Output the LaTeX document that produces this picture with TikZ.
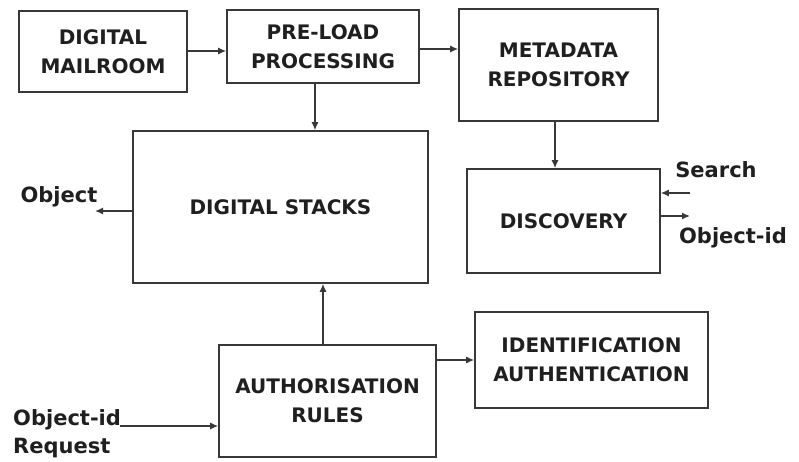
\documentclass[tikz,border=0pt]{standalone}
\usepackage{fontspec}
\setmainfont{DejaVu Sans}
\usetikzlibrary{arrows.meta,calc}

\tikzset{
  box/.style={draw=black!78, line width=1.6pt, rectangle, inner sep=0pt,
              align=center, text=black!88,
              font=\fontsize{20}{29}\selectfont\bfseries},
  flow/.style={draw=black!78, line width=1.4pt, -{Latex[length=8pt,width=7pt]}},
  lbl/.style={inner sep=0pt, text=black!88, align=left,
              font=\fontsize{21}{28}\selectfont\bfseries}
}

\begin{document}
\begin{tikzpicture}[x=1pt,y=-1pt]
  \useasboundingbox (0,0) rectangle (799,462);

  % blocks
  \node[box, minimum width=168pt, minimum height=81pt]  (mail)   at (103,51.5)  {DIGITAL\\MAILROOM};
  \node[box, minimum width=192pt, minimum height=73pt]  (pre)    at (323,46.5)  {PRE-LOAD\\PROCESSING};
  \node[box, minimum width=199pt, minimum height=112pt] (meta)   at (558.5,65)  {METADATA\\REPOSITORY};
  \node[box, minimum width=295pt, minimum height=152pt] (stacks) at (280.5,207) {DIGITAL STACKS};
  \node[box, minimum width=193pt, minimum height=104pt] (disc)   at (563.5,221) {DISCOVERY};
  \node[box, minimum width=217pt, minimum height=112pt] (auth)   at (327.5,401) {AUTHORISATION\\RULES};
  \node[box, minimum width=233pt, minimum height=96pt]  (ident)  at (591.5,360) {IDENTIFICATION\\AUTHENTICATION};

  % free ends of the external connectors
  \coordinate (search) at (690,193);
  \coordinate (oidout) at (690,216);
  \coordinate (objout) at (95,211);
  \coordinate (reqin)  at (120,426);

  % labels
  \node[lbl] (searchlbl) at (716,170) {Search};
  \node[lbl] (oidlbl)    at (733,238) {Object-id};
  \node[lbl] (objlbl)    at (59,197)  {Object};
  \node[lbl, anchor=north west] (reqlbl) at (13,409) {Object-id\\Request};

  % internal flow
  \draw[flow] (mail.east |- 0,51) -- (pre.west |- 0,51);
  \draw[flow] (pre.east |- 0,49) -- (meta.west |- 0,49);
  \draw[flow] ([xshift=-8pt]pre.south) -- ([xshift=-8pt]pre.south |- stacks.north);
  \draw[flow] ([xshift=-3.5pt]meta.south) -- ([xshift=-3.5pt]meta.south |- disc.north);
  \draw[flow] ([xshift=-4.5pt]auth.north) -- ([xshift=-4.5pt]auth.north |- stacks.south);
  \draw[flow] (auth.east |- ident.west) -- (ident.west);

  % external inputs and outputs
  \draw[flow] (search) -- (search -| disc.east);
  \draw[flow] (oidout -| disc.east) -- (oidout);
  \draw[flow] (objout -| stacks.west) -- (objout);
  \draw[flow] (reqin) -- (reqin -| auth.west);
\end{tikzpicture}
\end{document}
